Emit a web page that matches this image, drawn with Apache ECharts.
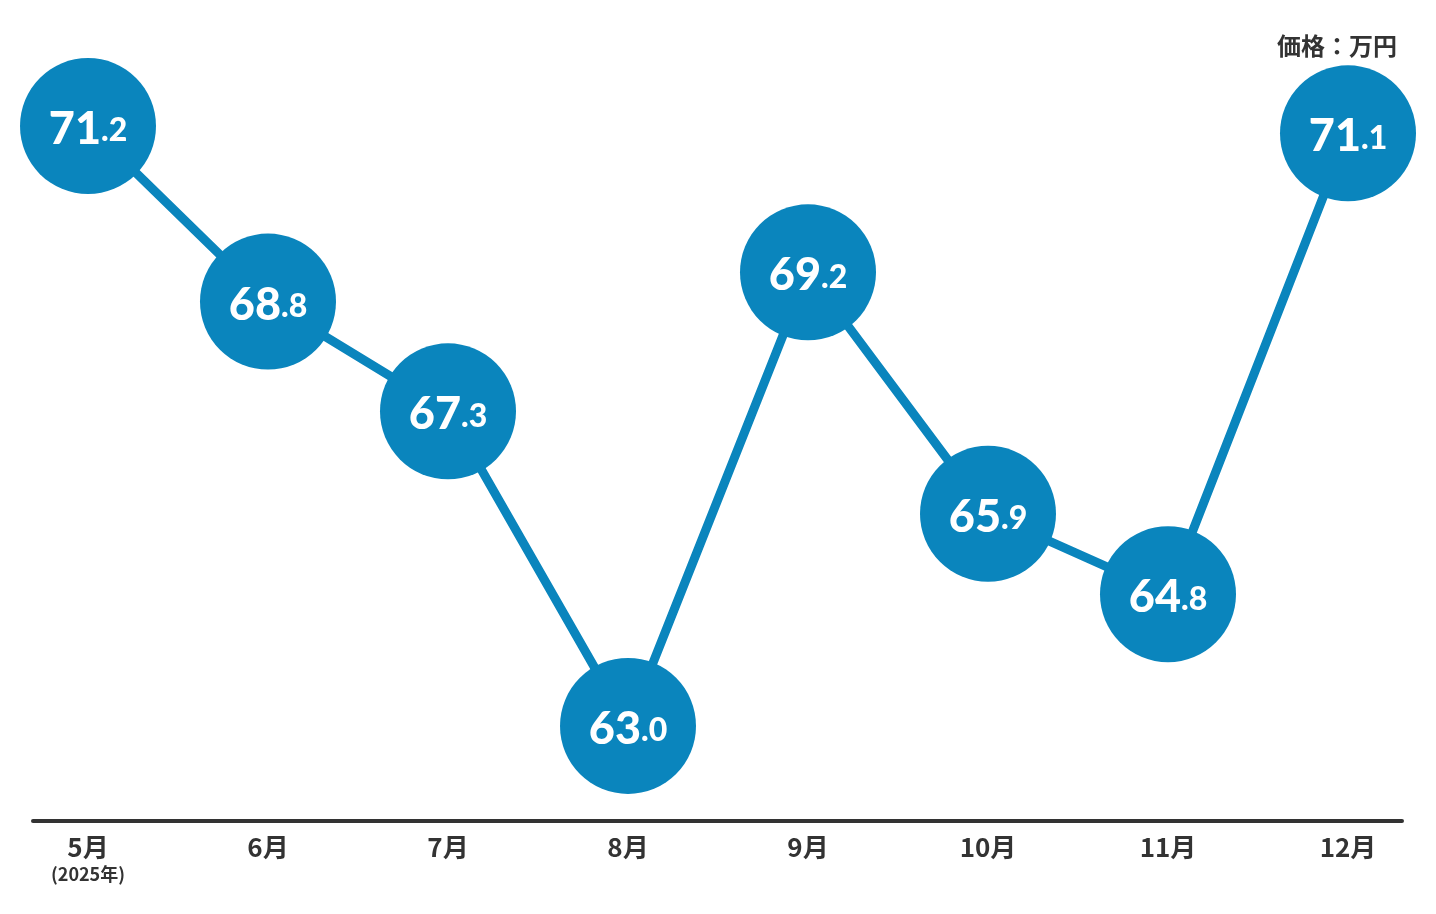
<!DOCTYPE html>
<html><head><meta charset="utf-8">
<script src="https://cdn.jsdelivr.net/npm/echarts@6/dist/echarts.min.js"></script>
<style>html,body{margin:0;padding:0;background:#fff}#c{width:1436px;height:914px}</style>
</head><body><div id="c"></div>
<script>
const categories = ['5月','6月','7月','8月','9月','10月','11月','12月'];
const subLabels = ['(2025年)','','','','','','',''];
const prices = [71.2, 68.8, 67.3, 63.0, 69.2, 65.9, 64.8, 71.1];
const unitLabel = '価格：万円';

const blue = '#0A85BD';
const chart = echarts.init(document.getElementById('c'));
chart.setOption({
  animation: false,
  backgroundColor: '#fff',
  title: {
    text: unitLabel, right: 34, top: 29,
    textStyle: {fontFamily: 'Noto Sans CJK JP', fontWeight: 'bold', fontSize: 24, color: '#333'}
  },
  grid: [
    {left: 88, right: 88, top: 9, bottom: 93},
    {left: 33, right: 34, top: 9, bottom: 93}
  ],
  xAxis: [
    {
      type: 'category', gridIndex: 0, data: categories, boundaryGap: false,
      axisLine: {show: false}, axisTick: {show: false},
      axisLabel: {
        interval: 0, margin: 12,
        formatter: (v, i) => subLabels[i] ? `{m|${v}}\n{s|${subLabels[i]}}` : `{m|${v}}`,
        rich: {
          m: {fontFamily: 'Noto Sans CJK JP', fontWeight: 'bold', fontSize: 26, color: '#333', lineHeight: 28},
          s: {fontFamily: 'Noto Sans CJK JP', fontWeight: 'bold', fontSize: 18, color: '#333', lineHeight: 26}
        }
      }
    },
    {
      type: 'value', gridIndex: 1, min: 0, max: 1,
      axisLine: {show: true, onZero: false, lineStyle: {color: '#333', width: 4}},
      axisTick: {show: false}, axisLabel: {show: false}, splitLine: {show: false}
    }
  ],
  yAxis: [
    {type: 'value', gridIndex: 0, min: 61.7, max: 72.8, show: false, splitLine: {show: false}},
    {type: 'value', gridIndex: 1, min: 0, max: 1, show: false}
  ],
  series: [{
    type: 'line', xAxisIndex: 0, yAxisIndex: 0, data: prices,
    symbol: 'circle', symbolSize: 136,
    itemStyle: {color: blue},
    lineStyle: {color: blue, width: 9},
    label: {
      show: true, position: 'inside', offset: [0, 4],
      formatter: p => {
        const s = p.value.toFixed(1).split('.');
        return `{a|${s[0]}}{b|.${s[1]}}`;
      },
      rich: {
        a: {fontFamily: 'Lato', fontWeight: 900, fontSize: 45, color: '#fff', verticalAlign: 'bottom', lineHeight: 44},
        b: {fontFamily: 'Lato', fontWeight: 900, fontSize: 32, color: '#fff', verticalAlign: 'bottom', lineHeight: 44, padding: [0, 0, 5, 0]}
      }
    }
  }]
});
</script></body></html>
